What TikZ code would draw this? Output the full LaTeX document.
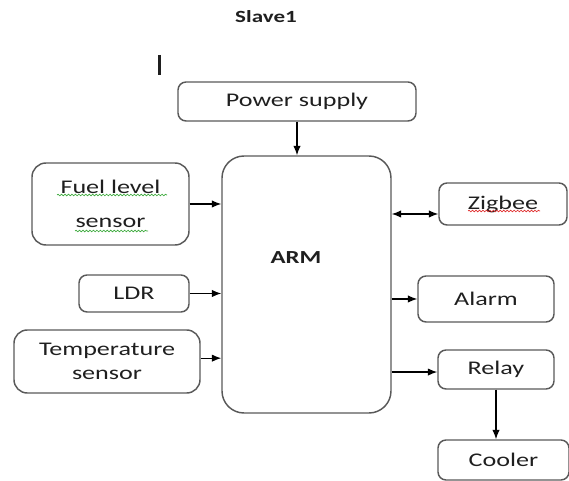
\documentclass[tikz,border=0pt]{standalone}
\usepackage{fontspec}
\setmainfont{Carlito}[FakeStretch=1.35]
\usetikzlibrary{arrows.meta,decorations.pathmorphing}
\definecolor{slaveGrey}{HTML}{595959}
\definecolor{slaveInk}{HTML}{1F1F1F}
\definecolor{spellGreen}{HTML}{3DAA3D}
\definecolor{spellRed}{HTML}{E03030}

\begin{document}
\begin{tikzpicture}[x=0.75pt,y=-0.75pt,
  block/.style={draw=slaveGrey,line width=1.1pt,rounded corners=6pt,align=center,text=slaveInk,font=\fontsize{14.5}{17.5}\selectfont,inner sep=0pt},
  link/.style={-{Latex[length=7pt,width=5.5pt]},line width=0.9pt,black},
  duplex/.style={{Latex[length=7pt,width=5.5pt]}-{Latex[length=7pt,width=5.5pt]},line width=0.9pt,black},
  squiggle/.style={decorate,decoration={snake,amplitude=0.6pt,segment length=2.6pt},line width=0.5pt}]

\useasboundingbox (0,0) rectangle (569,481);

\node[font=\bfseries\fontsize{12.8}{15}\selectfont,text=slaveInk] (title) at (266,17) {Slave1};
\draw[line width=1.6pt,slaveInk] (159.5,55) -- (159.5,75);

\node[block,minimum width=178.5pt,minimum height=29.25pt] (power) at (297,101.5) {Power supply};
\node[block,rounded corners=16.5pt,minimum width=126.75pt,minimum height=192.75pt] (arm) at (306.5,284.5) {};
\node[font=\bfseries\fontsize{13.8}{16}\selectfont,text=slaveInk] (armlabel) at (296,258) {ARM};

\node[block,rounded corners=10.5pt,minimum width=117.75pt,minimum height=61.5pt,font=\fontsize{14.5}{26}\selectfont] (fuel) at (110.5,204) {Fuel level\\sensor};
\node[block,minimum width=82.5pt,minimum height=27.75pt] (ldr) at (134,293.5) {LDR};
\node[block,rounded corners=10pt,minimum width=139.5pt,minimum height=47.25pt] (temp) at (107,361.5) {Temperature\\sensor};

\node[block,minimum width=96pt,minimum height=31.5pt] (zigbee) at (503,204) {Zigbee};
\node[block,minimum width=102pt,minimum height=34.5pt] (alarm) at (486,299) {Alarm};
\node[block,minimum width=87pt,minimum height=29.25pt] (relay) at (496,369.5) {Relay};
\node[block,minimum width=98.25pt,minimum height=30pt] (cooler) at (503.5,460) {Cooler};

\draw[link] (power.south) -- (power.south |- arm.north);
\draw[link] (fuel.east) -- (fuel.east -| arm.west);
\draw[link] (ldr.east) -- (ldr.east -| arm.west);
\draw[link] ([yshift=2.5pt]temp.east) -- ([yshift=2.5pt]temp.east -| arm.west);
\draw[duplex] ([yshift=-7.5pt]zigbee.west -| arm.east) -- ([yshift=-7.5pt]zigbee.west);
\draw[link] (alarm.west -| arm.east) -- (alarm.west);
\draw[link] ([yshift=-1.9pt]relay.west -| arm.east) -- ([yshift=-1.9pt]relay.west);
\draw[link] (relay.south) -- (relay.south |- cooler.north);

\draw[squiggle,spellGreen] (57,195) -- (167,195);
\draw[squiggle,spellGreen] (75,231) -- (148,231);
\draw[squiggle,spellRed] (468,211) -- (540,211);
\end{tikzpicture}
\end{document}
